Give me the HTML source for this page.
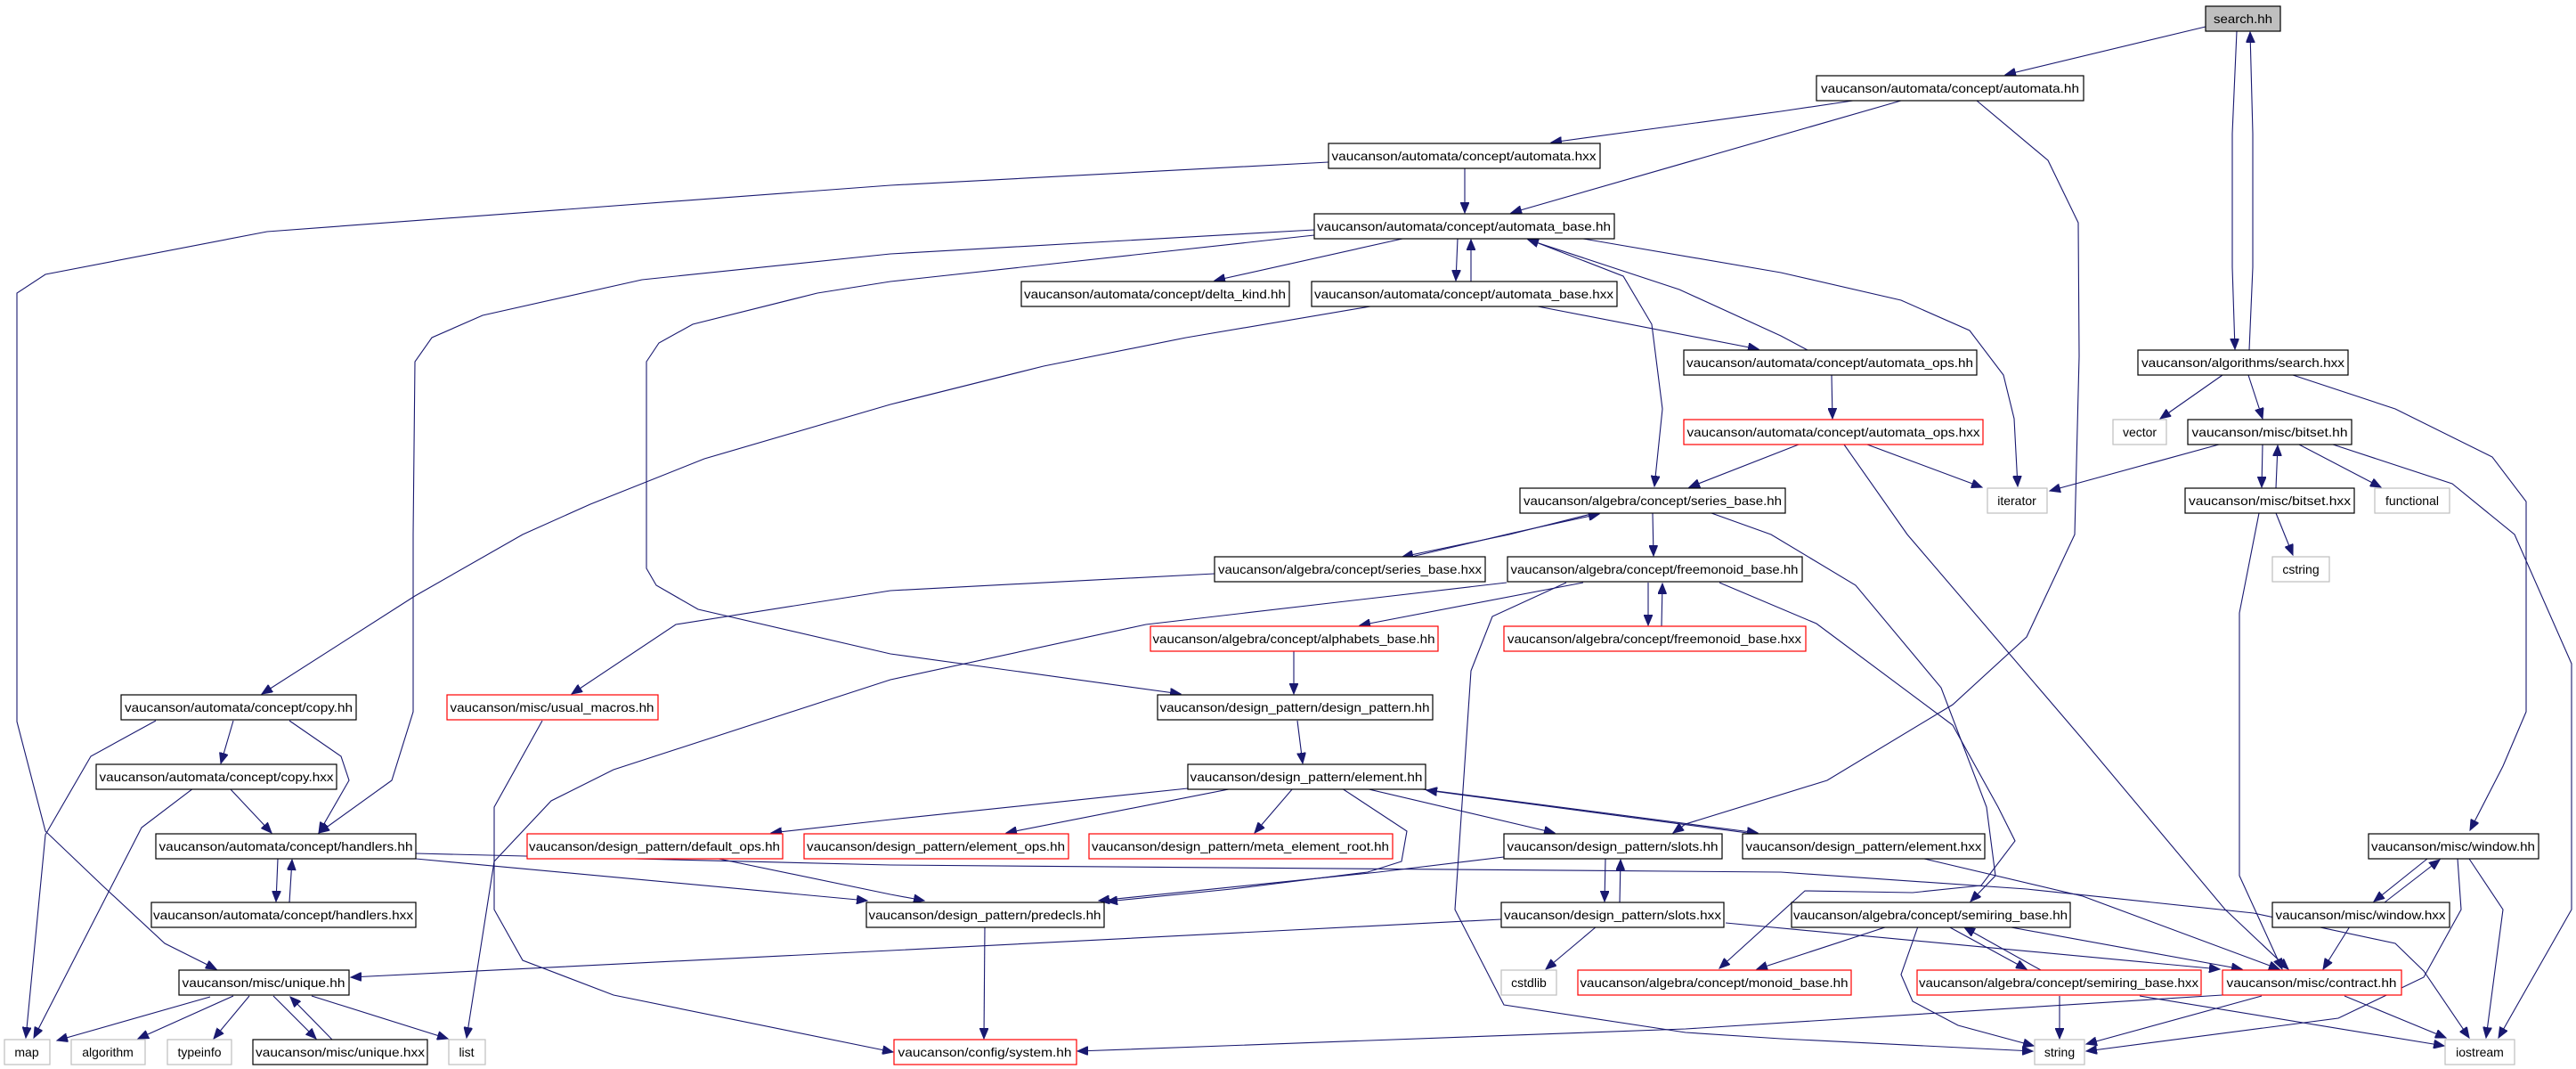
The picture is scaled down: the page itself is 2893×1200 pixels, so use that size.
<!DOCTYPE html>
<html><head><meta charset="utf-8"><style>
html,body{margin:0;padding:0;background:#fff;}
svg{display:block;}
text{font-family:"Liberation Sans",sans-serif;font-size:14px;fill:#000;}
.e{fill:none;stroke:#191970;stroke-width:1.1;marker-end:url(#a);}
.n{fill:#fff;stroke:#000;stroke-width:1.2;}
.r{fill:#fff;stroke:#ff0000;stroke-width:1.2;}
.g{fill:#fff;stroke:#bfbfbf;stroke-width:1.2;}
</style></head><body>
<svg width="2893" height="1200" viewBox="0 0 2893 1200" xmlns="http://www.w3.org/2000/svg">
<defs><marker id="a" markerUnits="userSpaceOnUse" markerWidth="14" markerHeight="10" refX="12" refY="5" orient="auto"><path d="M0,0 L12,5 L0,10 z" fill="#191970" stroke="#191970"/></marker></defs>
<g>
<polyline class="e" points="2477,30 2252,84"/>
<polyline class="e" points="2512,35 2507,150 2507,300 2510,392"/>
<polyline class="e" points="2526,393 2530,300 2530,150 2527,36"/>
<polyline class="e" points="2081,113 2000,125 1742,160"/>
<polyline class="e" points="2135,113 1697,239"/>
<polyline class="e" points="2220,113 2300,180 2334,250 2335,400 2330,600 2276,715 2193,791 2052,876 1893,925 1879,935"/>
<polyline class="e" points="1645,189 1645,239"/>
<polyline class="e" points="1492,182 1000,208 300,260 51,308 19,329 19,600 19,810 51,933 115,994 185,1059 243,1088"/>
<polyline class="e" points="1575,268 1364,315"/>
<polyline class="e" points="1637,268 1635,315"/>
<polyline class="e" points="1652,316 1652,269"/>
<polyline class="e" points="1476,258 1000,285 721,314 542,354 485,379 466,406 464,600 464,799 440,876 358,935"/>
<polyline class="e" points="1476,264 1000,316 918,329 778,364 740,385 726,406 726,638 737,657 784,684 1000,734 1326,779"/>
<polyline class="e" points="1778,268 2000,306 2135,337 2212,371 2250,421 2262,470 2266,546"/>
<polyline class="e" points="1720,270 1823,310 1855,364 1867,459 1858,546"/>
<polyline class="e" points="2030,393 2000,377 1886,325 1716,269"/>
<polyline class="e" points="1727,344 1975,392"/>
<polyline class="e" points="1539,344 1332,379 1172,411 1000,454 791,515 663,566 587,600 466,669 294,779"/>
<polyline class="e" points="2057,421 2058,470"/>
<polyline class="e" points="2020,499 1897,547"/>
<polyline class="e" points="2097,499 2226,547"/>
<polyline class="e" points="2071,499 2142,600 2339,830 2499,1021 2570,1088"/>
<polyline class="e" points="2496,421 2426,470"/>
<polyline class="e" points="2525,421 2541,470"/>
<polyline class="e" points="2575,421 2690,459 2799,513 2837,563 2837,600 2837,799 2811,860 2774,932"/>
<polyline class="e" points="2492,499 2302,551"/>
<polyline class="e" points="2541,499 2540,547"/>
<polyline class="e" points="2556,548 2558,500"/>
<polyline class="e" points="2582,499 2674,547"/>
<polyline class="e" points="2620,499 2754,543 2824,600 2888,745 2888,1021 2806,1165"/>
<polyline class="e" points="2556,576 2575,623"/>
<polyline class="e" points="2537,576 2515,688 2515,983 2563,1088"/>
<polyline class="e" points="1791,576 1695,600 1575,625"/>
<polyline class="e" points="1585,625 1700,598 1796,577"/>
<polyline class="e" points="1856,576 1857,624"/>
<polyline class="e" points="1922,576 1989,600 2084,657 2180,772 2231,906 2241,983 2213,1012"/>
<polyline class="e" points="1364,644 1000,663 759,701 642,779"/>
<polyline class="e" points="1778,654 1527,702"/>
<polyline class="e" points="1851,654 1851,702"/>
<polyline class="e" points="1866,703 1867,655"/>
<polyline class="e" points="1692,654 1287,701 1000,763 689,864 619,899 555,967 524,1165"/>
<polyline class="e" points="1759,654 1676,692 1652,753 1634,1021 1689,1128 1893,1159 2000,1166 2283,1180"/>
<polyline class="e" points="1931,654 2040,700 2193,814 2244,906 2263,944 2225,994 2148,1002 2027,1000 1931,1087"/>
<polyline class="e" points="1453,731 1453,779"/>
<polyline class="e" points="1457,809 1463,857"/>
<polyline class="e" points="1334,885 1000,920 866,935"/>
<polyline class="e" points="1385,885 1130,935"/>
<polyline class="e" points="1452,885 1409,935"/>
<polyline class="e" points="1507,885 1580,933 1574,967 1536,979 1383,998 1243,1012"/>
<polyline class="e" points="1533,885 1746,935"/>
<polyline class="e" points="1590,885 1974,935"/>
<polyline class="e" points="1985,938 1602,887"/>
<polyline class="e" points="2161,964 2339,1006 2560,1088"/>
<polyline class="e" points="1689,962 1548,979 1234,1011"/>
<polyline class="e" points="1803,964 1802,1012"/>
<polyline class="e" points="1819,1013 1820,965"/>
<polyline class="e" points="1686,1032 1000,1067 394,1097"/>
<polyline class="e" points="1793,1040 1736,1088"/>
<polyline class="e" points="1938,1036 2493,1088"/>
<polyline class="e" points="312,964 310,1012"/>
<polyline class="e" points="325,1013 328,965"/>
<polyline class="e" points="467,964 974,1011"/>
<polyline class="e" points="467,958 1000,971 2000,979 2276,998 2531,1025 2690,1059 2722,1090 2773,1165"/>
<polyline class="e" points="807,964 1000,1004 1038,1011"/>
<polyline class="e" points="262,809 248,857"/>
<polyline class="e" points="325,809 383,849 392,876 358,935"/>
<polyline class="e" points="175,809 102,849 51,937 29,1165"/>
<polyline class="e" points="258,885 305,935"/>
<polyline class="e" points="217,885 159,929 38,1165"/>
<polyline class="e" points="609,809 555,906 555,1021 587,1078 689,1117 1003,1181"/>
<polyline class="e" points="1106,1040 1105,1166"/>
<polyline class="e" points="236,1119 64,1168"/>
<polyline class="e" points="262,1118 155,1166"/>
<polyline class="e" points="280,1118 240,1166"/>
<polyline class="e" points="307,1118 355,1166"/>
<polyline class="e" points="373,1167 326,1119"/>
<polyline class="e" points="350,1118 503,1166"/>
<polyline class="e" points="2120,1040 1973,1088"/>
<polyline class="e" points="2154,1040 2135,1094 2148,1124 2199,1151 2284,1174"/>
<polyline class="e" points="2188,1040 2276,1088"/>
<polyline class="e" points="2292,1089 2206,1041"/>
<polyline class="e" points="2253,1040 2518,1088"/>
<polyline class="e" points="2313,1118 2313,1166"/>
<polyline class="e" points="2403,1118 2745,1174"/>
<polyline class="e" points="2540,1118 2343,1172"/>
<polyline class="e" points="2633,1118 2747,1165"/>
<polyline class="e" points="2496,1117 1893,1155 1210,1180"/>
<polyline class="e" points="2726,964 2666,1012"/>
<polyline class="e" points="2678,1013 2740,965"/>
<polyline class="e" points="2760,964 2764,1021 2722,1097 2626,1143 2343,1180"/>
<polyline class="e" points="2773,964 2811,1021 2792,1165"/>
<polyline class="e" points="2639,1040 2609,1088"/>
</g>
<g>
<rect x="2477" y="7" width="84" height="28" fill="#bfbfbf" stroke="#000" stroke-width="1.2"/><text x="2519" y="26" text-anchor="middle" textLength="66" lengthAdjust="spacingAndGlyphs">search.hh</text>
<rect class="n" x="2040" y="85" width="300" height="28"/><text x="2190" y="104" text-anchor="middle" textLength="290" lengthAdjust="spacingAndGlyphs">vaucanson/automata/concept/automata.hh</text>
<rect class="n" x="1492" y="161" width="305" height="28"/><text x="1644" y="180" text-anchor="middle" textLength="297" lengthAdjust="spacingAndGlyphs">vaucanson/automata/concept/automata.hxx</text>
<rect class="n" x="1476" y="240" width="337" height="28"/><text x="1644" y="259" text-anchor="middle" textLength="330" lengthAdjust="spacingAndGlyphs">vaucanson/automata/concept/automata_base.hh</text>
<rect class="n" x="1147" y="316" width="301" height="28"/><text x="1297" y="335" text-anchor="middle" textLength="294" lengthAdjust="spacingAndGlyphs">vaucanson/automata/concept/delta_kind.hh</text>
<rect class="n" x="1473" y="316" width="343" height="28"/><text x="1644" y="335" text-anchor="middle" textLength="336" lengthAdjust="spacingAndGlyphs">vaucanson/automata/concept/automata_base.hxx</text>
<rect class="n" x="1891" y="393" width="329" height="28"/><text x="2055" y="412" text-anchor="middle" textLength="322" lengthAdjust="spacingAndGlyphs">vaucanson/automata/concept/automata_ops.hh</text>
<rect class="n" x="2401" y="393" width="236" height="28"/><text x="2519" y="412" text-anchor="middle" textLength="228" lengthAdjust="spacingAndGlyphs">vaucanson/algorithms/search.hxx</text>
<rect class="r" x="1891" y="471" width="336" height="28"/><text x="2059" y="490" text-anchor="middle" textLength="329" lengthAdjust="spacingAndGlyphs">vaucanson/automata/concept/automata_ops.hxx</text>
<rect class="g" x="2373" y="471" width="60" height="28"/><text x="2403" y="490" text-anchor="middle">vector</text>
<rect class="n" x="2457" y="471" width="184" height="28"/><text x="2549" y="490" text-anchor="middle" textLength="175" lengthAdjust="spacingAndGlyphs">vaucanson/misc/bitset.hh</text>
<rect class="n" x="1707" y="548" width="298" height="28"/><text x="1856" y="567" text-anchor="middle" textLength="290" lengthAdjust="spacingAndGlyphs">vaucanson/algebra/concept/series_base.hh</text>
<rect class="g" x="2232" y="548" width="67" height="28"/><text x="2265" y="567" text-anchor="middle">iterator</text>
<rect class="n" x="2454" y="548" width="190" height="28"/><text x="2549" y="567" text-anchor="middle" textLength="182" lengthAdjust="spacingAndGlyphs">vaucanson/misc/bitset.hxx</text>
<rect class="g" x="2667" y="548" width="84" height="28"/><text x="2709" y="567" text-anchor="middle">functional</text>
<rect class="n" x="1364" y="625" width="304" height="28"/><text x="1516" y="644" text-anchor="middle" textLength="296" lengthAdjust="spacingAndGlyphs">vaucanson/algebra/concept/series_base.hxx</text>
<rect class="n" x="1693" y="625" width="331" height="28"/><text x="1858" y="644" text-anchor="middle" textLength="323" lengthAdjust="spacingAndGlyphs">vaucanson/algebra/concept/freemonoid_base.hh</text>
<rect class="g" x="2552" y="625" width="64" height="28"/><text x="2584" y="644" text-anchor="middle">cstring</text>
<rect class="r" x="1292" y="703" width="323" height="28"/><text x="1453" y="722" text-anchor="middle" textLength="317" lengthAdjust="spacingAndGlyphs">vaucanson/algebra/concept/alphabets_base.hh</text>
<rect class="r" x="1689" y="703" width="339" height="28"/><text x="1858" y="722" text-anchor="middle" textLength="330" lengthAdjust="spacingAndGlyphs">vaucanson/algebra/concept/freemonoid_base.hxx</text>
<rect class="n" x="136" y="780" width="264" height="28"/><text x="268" y="799" text-anchor="middle" textLength="256" lengthAdjust="spacingAndGlyphs">vaucanson/automata/concept/copy.hh</text>
<rect class="r" x="502" y="780" width="237" height="28"/><text x="620" y="799" text-anchor="middle" textLength="229" lengthAdjust="spacingAndGlyphs">vaucanson/misc/usual_macros.hh</text>
<rect class="n" x="1300" y="780" width="309" height="28"/><text x="1454" y="799" text-anchor="middle" textLength="303" lengthAdjust="spacingAndGlyphs">vaucanson/design_pattern/design_pattern.hh</text>
<rect class="n" x="108" y="858" width="270" height="28"/><text x="243" y="877" text-anchor="middle" textLength="263" lengthAdjust="spacingAndGlyphs">vaucanson/automata/concept/copy.hxx</text>
<rect class="n" x="1334" y="858" width="267" height="28"/><text x="1467" y="877" text-anchor="middle" textLength="261" lengthAdjust="spacingAndGlyphs">vaucanson/design_pattern/element.hh</text>
<rect class="n" x="175" y="936" width="292" height="28"/><text x="321" y="955" text-anchor="middle" textLength="285" lengthAdjust="spacingAndGlyphs">vaucanson/automata/concept/handlers.hh</text>
<rect class="r" x="592" y="936" width="287" height="28"/><text x="735" y="955" text-anchor="middle" textLength="282" lengthAdjust="spacingAndGlyphs">vaucanson/design_pattern/default_ops.hh</text>
<rect class="r" x="903" y="936" width="297" height="28"/><text x="1051" y="955" text-anchor="middle" textLength="290" lengthAdjust="spacingAndGlyphs">vaucanson/design_pattern/element_ops.hh</text>
<rect class="r" x="1223" y="936" width="341" height="28"/><text x="1393" y="955" text-anchor="middle" textLength="334" lengthAdjust="spacingAndGlyphs">vaucanson/design_pattern/meta_element_root.hh</text>
<rect class="n" x="1689" y="936" width="245" height="28"/><text x="1811" y="955" text-anchor="middle" textLength="237" lengthAdjust="spacingAndGlyphs">vaucanson/design_pattern/slots.hh</text>
<rect class="n" x="1957" y="936" width="272" height="28"/><text x="2093" y="955" text-anchor="middle" textLength="265" lengthAdjust="spacingAndGlyphs">vaucanson/design_pattern/element.hxx</text>
<rect class="n" x="2660" y="936" width="191" height="28"/><text x="2755" y="955" text-anchor="middle" textLength="184" lengthAdjust="spacingAndGlyphs">vaucanson/misc/window.hh</text>
<rect class="n" x="170" y="1013" width="297" height="28"/><text x="318" y="1032" text-anchor="middle" textLength="292" lengthAdjust="spacingAndGlyphs">vaucanson/automata/concept/handlers.hxx</text>
<rect class="n" x="973" y="1013" width="267" height="28"/><text x="1106" y="1032" text-anchor="middle" textLength="261" lengthAdjust="spacingAndGlyphs">vaucanson/design_pattern/predecls.hh</text>
<rect class="n" x="1686" y="1013" width="250" height="28"/><text x="1811" y="1032" text-anchor="middle" textLength="244" lengthAdjust="spacingAndGlyphs">vaucanson/design_pattern/slots.hxx</text>
<rect class="n" x="2012" y="1013" width="313" height="28"/><text x="2168" y="1032" text-anchor="middle" textLength="308" lengthAdjust="spacingAndGlyphs">vaucanson/algebra/concept/semiring_base.hh</text>
<rect class="n" x="2552" y="1013" width="199" height="28"/><text x="2651" y="1032" text-anchor="middle" textLength="191" lengthAdjust="spacingAndGlyphs">vaucanson/misc/window.hxx</text>
<rect class="n" x="201" y="1089" width="191" height="28"/><text x="296" y="1108" text-anchor="middle" textLength="183" lengthAdjust="spacingAndGlyphs">vaucanson/misc/unique.hh</text>
<rect class="g" x="1686" y="1089" width="62" height="28"/><text x="1717" y="1108" text-anchor="middle">cstdlib</text>
<rect class="r" x="1772" y="1089" width="307" height="28"/><text x="1925" y="1108" text-anchor="middle" textLength="301" lengthAdjust="spacingAndGlyphs">vaucanson/algebra/concept/monoid_base.hh</text>
<rect class="r" x="2153" y="1089" width="319" height="28"/><text x="2312" y="1108" text-anchor="middle" textLength="314" lengthAdjust="spacingAndGlyphs">vaucanson/algebra/concept/semiring_base.hxx</text>
<rect class="r" x="2496" y="1089" width="201" height="28"/><text x="2596" y="1108" text-anchor="middle" textLength="191" lengthAdjust="spacingAndGlyphs">vaucanson/misc/contract.hh</text>
<rect class="g" x="5" y="1167" width="51" height="28"/><text x="30" y="1186" text-anchor="middle">map</text>
<rect class="g" x="80" y="1167" width="83" height="28"/><text x="121" y="1186" text-anchor="middle">algorithm</text>
<rect class="g" x="188" y="1167" width="72" height="28"/><text x="224" y="1186" text-anchor="middle">typeinfo</text>
<rect class="n" x="284" y="1167" width="196" height="28"/><text x="382" y="1186" text-anchor="middle" textLength="190" lengthAdjust="spacingAndGlyphs">vaucanson/misc/unique.hxx</text>
<rect class="g" x="504" y="1167" width="41" height="28"/><text x="524" y="1186" text-anchor="middle">list</text>
<rect class="r" x="1004" y="1167" width="205" height="28"/><text x="1106" y="1186" text-anchor="middle" textLength="195" lengthAdjust="spacingAndGlyphs">vaucanson/config/system.hh</text>
<rect class="g" x="2285" y="1167" width="56" height="28"/><text x="2313" y="1186" text-anchor="middle">string</text>
<rect class="g" x="2746" y="1167" width="78" height="28"/><text x="2785" y="1186" text-anchor="middle">iostream</text>
</g>
</svg>
</body></html>
